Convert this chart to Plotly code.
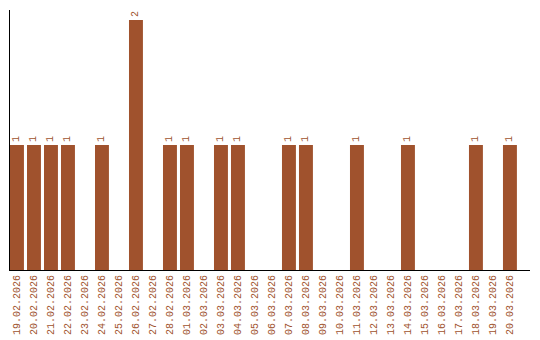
import plotly.graph_objects as go

dates = ["19.02.2026","20.02.2026","21.02.2026","22.02.2026","23.02.2026","24.02.2026",
         "25.02.2026","26.02.2026","27.02.2026","28.02.2026","01.03.2026","02.03.2026",
         "03.03.2026","04.03.2026","05.03.2026","06.03.2026","07.03.2026","08.03.2026",
         "09.03.2026","10.03.2026","11.03.2026","12.03.2026","13.03.2026","14.03.2026",
         "15.03.2026","16.03.2026","17.03.2026","18.03.2026","19.03.2026","20.03.2026"]
counts = [1,1,1,1,0,1,0,2,0,1,1,0,1,1,0,0,1,1,0,0,1,0,0,1,0,0,0,1,0,1]

color = "#A0522D"
font = "Liberation Mono"

fig = go.Figure(go.Bar(
    x=dates, y=[c if c else None for c in counts],
    marker=dict(color=color, line=dict(width=0)),
    width=0.82,
    text=[str(c) if c else "" for c in counts],
    textposition="outside", textangle=-90,
    textfont=dict(family=font, size=10, color=color),
    cliponaxis=False,
))
fig.update_layout(
    width=540, height=340,
    margin=dict(l=10, r=10, t=10, b=70),
    plot_bgcolor="white", paper_bgcolor="white",
    showlegend=False,
    xaxis=dict(type="category", range=[-0.41, 30.18], showline=True, linecolor="black",
               linewidth=1, ticks="", tickangle=-90, automargin=False,
               tickfont=dict(family=font, size=10, color=color), showgrid=False),
    yaxis=dict(range=[0, 2.08], showline=True, linecolor="black", linewidth=1,
               showticklabels=False, showgrid=False, zeroline=False, ticks="",
               automargin=False),
)
fig.write_html("out.html")
